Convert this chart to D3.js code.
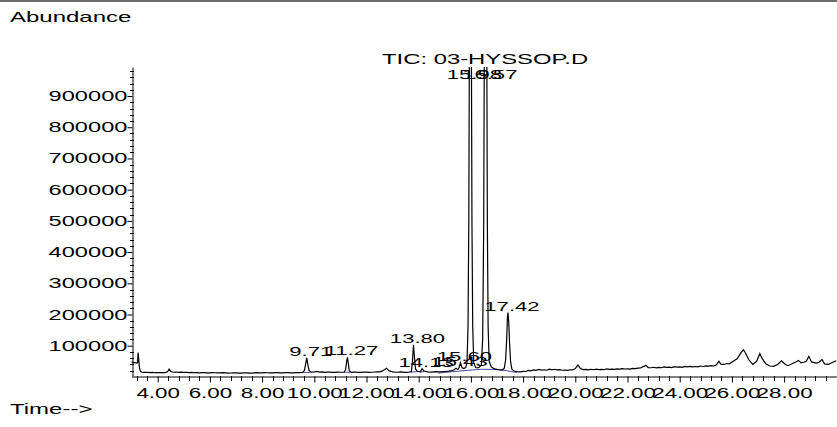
<!DOCTYPE html>
<html>
<head>
<meta charset="utf-8">
<script src="https://cdn.jsdelivr.net/npm/d3@7"></script>
<style>
  body { margin: 0; background: #fff; }
  svg { display: block; }
  text { font-family: "Liberation Sans", Arial, sans-serif; fill: #000; }
</style>
</head>
<body>
<svg id="chart" width="837" height="427"></svg>
<script>
// chromatogram trace: [time (min), abundance]
const trace = [
  [3.00, 48000], [3.10, 46000], [3.20, 44000], [3.23, 46000], [3.25, 78000], [3.27, 60000],
  [3.30, 30000], [3.34, 17000], [3.40, 15500], [3.50, 14500], [3.60, 15000], [3.70, 14000],
  [3.80, 14500], [3.90, 13500], [4.00, 14000], [4.10, 13800], [4.20, 14200], [4.30, 14000],
  [4.38, 17000], [4.44, 25000], [4.50, 17500], [4.60, 15000], [4.70, 15800], [4.80, 14500],
  [4.90, 15200], [5.00, 14600], [5.10, 15000], [5.20, 14000], [5.30, 14300], [5.40, 13500],
  [5.50, 13900], [5.60, 13200], [5.70, 14000], [5.80, 13600], [5.90, 12900], [6.00, 13000],
  [6.10, 13800], [6.20, 13400], [6.30, 12700], [6.40, 12800], [6.50, 13500], [6.60, 13200],
  [6.70, 12500], [6.80, 12600], [6.90, 13300], [7.00, 13000], [7.10, 12300], [7.20, 12400],
  [7.30, 13100], [7.40, 12900], [7.50, 12200], [7.60, 12500], [7.70, 13200], [7.80, 13600],
  [7.90, 12800], [8.00, 13000], [8.10, 13700], [8.20, 13400], [8.30, 12700], [8.40, 12800],
  [8.50, 13600], [8.60, 13500], [8.70, 12900], [8.80, 13000], [8.90, 13900], [9.00, 13800],
  [9.10, 13000], [9.20, 13200], [9.30, 14000], [9.40, 13900], [9.55, 14500], [9.62, 21000],
  [9.67, 42000], [9.71, 61000], [9.75, 40000], [9.80, 21000], [9.88, 15500], [10.00, 16500],
  [10.10, 18000], [10.20, 15500], [10.30, 15900], [10.40, 14800], [10.50, 15600], [10.60, 15200],
  [10.70, 14400], [10.80, 14500], [10.90, 15300], [11.00, 15000], [11.15, 15500], [11.20, 24000],
  [11.24, 50000], [11.27, 63000], [11.30, 45000], [11.34, 20000], [11.42, 14500], [11.50, 15600],
  [11.60, 15200], [11.70, 14300], [11.80, 14600], [11.90, 15400], [12.00, 15500], [12.10, 14800],
  [12.20, 15000], [12.30, 15900], [12.40, 16500], [12.50, 16000], [12.60, 18500], [12.77, 28000],
  [12.85, 20000], [13.00, 16000], [13.10, 15200], [13.20, 15000], [13.30, 15900], [13.40, 15600],
  [13.50, 14800], [13.60, 15000], [13.72, 17000], [13.76, 50000], [13.80, 103000], [13.84, 60000],
  [13.88, 25000], [13.95, 18000], [14.05, 16000], [14.13, 26000], [14.20, 19000], [14.35, 16000],
  [14.50, 15500], [14.65, 17000], [14.80, 16000], [15.00, 17500], [15.15, 18500], [15.25, 20000],
  [15.35, 22000], [15.43, 28000], [15.50, 24000], [15.55, 30000], [15.60, 46000], [15.66, 30000],
  [15.72, 27000], [15.80, 30000], [15.85, 45000], [15.89, 160000], [15.92, 500000], [15.95, 1300000],
  [15.98, 1900000], [16.01, 1300000], [16.04, 500000], [16.07, 160000], [16.11, 45000], [16.18, 30000],
  [16.25, 29000], [16.32, 31000], [16.40, 38000], [16.45, 120000], [16.49, 480000], [16.52, 1200000],
  [16.55, 1800000], [16.57, 1900000], [16.60, 1300000], [16.63, 500000], [16.66, 160000], [16.70, 50000],
  [16.78, 32000], [16.90, 26000], [17.00, 24000], [17.10, 22500], [17.20, 22000], [17.28, 28000],
  [17.33, 55000], [17.37, 120000], [17.40, 190000], [17.42, 206000], [17.45, 175000], [17.48, 110000],
  [17.52, 50000], [17.57, 25000], [17.65, 19000], [17.75, 17000], [17.90, 16500], [18.00, 18000],
  [18.10, 17500], [18.20, 21000], [18.30, 19500], [18.40, 22500], [18.50, 21000], [18.60, 24000],
  [18.70, 22000], [18.80, 23000], [18.90, 21500], [19.00, 25000], [19.10, 23000], [19.20, 24500],
  [19.30, 22500], [19.40, 23500], [19.50, 21500], [19.60, 22000], [19.70, 21000], [19.80, 23000],
  [19.90, 22500], [20.00, 27000], [20.10, 38000], [20.20, 27000], [20.30, 23500], [20.40, 24000],
  [20.50, 22500], [20.60, 24500], [20.70, 23000], [20.80, 25000], [20.90, 23500], [21.00, 24000],
  [21.10, 23000], [21.20, 25500], [21.30, 24000], [21.40, 25000], [21.50, 24000], [21.60, 26000],
  [21.70, 25000], [21.80, 26500], [21.90, 25500], [22.00, 26000], [22.10, 25000], [22.20, 27500],
  [22.30, 26500], [22.40, 28000], [22.50, 29000], [22.60, 33000], [22.70, 37000], [22.80, 30000],
  [22.90, 29500], [23.00, 31000], [23.10, 29000], [23.20, 30500], [23.30, 29500], [23.40, 32000],
  [23.50, 30500], [23.60, 31500], [23.70, 30000], [23.80, 33000], [23.90, 31500], [24.00, 32500],
  [24.10, 31000], [24.20, 33500], [24.30, 32000], [24.40, 34000], [24.50, 32500], [24.60, 33500],
  [24.70, 32500], [24.80, 35000], [24.90, 33500], [25.00, 35500], [25.10, 34500], [25.20, 36000],
  [25.30, 35000], [25.40, 38000], [25.50, 50000], [25.58, 41000], [25.70, 40000], [25.80, 43000],
  [25.90, 42000], [26.05, 50000], [26.20, 58000], [26.35, 78000], [26.44, 87000], [26.50, 80000],
  [26.65, 55000], [26.80, 40000], [26.95, 50000], [27.07, 75000], [27.15, 60000], [27.30, 42000],
  [27.45, 35000], [27.60, 34000], [27.75, 40000], [27.90, 52000], [28.05, 40000], [28.15, 36000],
  [28.30, 42000], [28.45, 48000], [28.55, 53000], [28.65, 45000], [28.75, 47000], [28.85, 50000],
  [28.95, 66000], [29.05, 48000], [29.15, 46000], [29.25, 44000], [29.35, 48000], [29.45, 56000],
  [29.55, 42000], [29.70, 40000], [29.85, 46000], [30.00, 52000]
];

// integrated peaks: retention time labels and apex abundance
const peakTimes = [9.71, 11.27, 13.80, 14.13, 15.43, 15.60, 15.98, 16.57, 17.42];
const peakApex = [61000, 63000, 103000, 26000, 28000, 46000, 1900000, 1900000, 206000];

// integration baselines (blue)
const baselines = [
  [[9.58, 14000], [9.86, 15000]],
  [[11.18, 15000], [11.40, 14800]],
  [[13.70, 15500], [13.97, 17000]],
  [[14.05, 15500], [14.22, 17500]],
  [[14.75, 12500], [15.45, 18000], [16.00, 22000], [16.40, 24500], [17.10, 24000], [17.75, 14000]]
];

const yTicks = [100000, 200000, 300000, 400000, 500000, 600000, 700000, 800000, 900000];
const xTicks = [4, 6, 8, 10, 12, 14, 16, 18, 20, 22, 24, 26, 28];
const title = "TIC: 03-HYSSOP.D";

const svg = d3.select("#chart");

const x = d3.scaleLinear().domain([3.0, 30.0]).range([131.6, 836.3]);
const y = d3.scaleLinear().domain([3000, 993000]).range([376, 67]);

// grey rule along the top
svg.append("rect").attr("x", 0).attr("y", 0).attr("width", 837).attr("height", 2).attr("fill", "#6b6b6b");

svg.append("text")
  .attr("transform", "translate(10,21.5) scale(1.6,1)")
  .style("font-size", "15px")
  .text("Abundance");

svg.append("text")
  .attr("transform", "translate(10,414) scale(1.6,1)")
  .style("font-size", "15px")
  .text("Time-->");

svg.append("text")
  .attr("transform", "translate(382,64) scale(1.59,1)")
  .style("font-size", "15px")
  .text(title);

// y axis
const minorY = d3.range(20000, 993000, 20000).filter((v) => v % 100000 !== 0);
svg.append("g")
  .selectAll("line")
  .data(minorY)
  .join("line")
  .attr("x1", 130).attr("x2", 134)
  .attr("y1", (d) => Math.round(y(d)) + 0.5).attr("y2", (d) => Math.round(y(d)) + 0.5)
  .attr("stroke", "#000");

const yAxis = svg.append("g")
  .attr("transform", "translate(132.5,0)")
  .call(d3.axisLeft(y).tickValues(yTicks).tickSize(5).tickSizeOuter(0).tickFormat((d) => d));
yAxis.select(".domain").attr("stroke", "#000");
yAxis.selectAll("text")
  .attr("x", -3)
  .attr("transform", "scale(1.69,1)")
  .style("font-size", "14px")
  .style("font-family", "'Liberation Sans', Arial, sans-serif");

// x axis
const minorX = d3.range(3.2, 30, 0.4).filter((v) => Math.abs(v / 2 - Math.round(v / 2)) > 0.01);
svg.append("g")
  .selectAll("line")
  .data(minorX)
  .join("line")
  .attr("x1", (d) => Math.round(x(d)) + 0.5).attr("x2", (d) => Math.round(x(d)) + 0.5)
  .attr("y1", 376).attr("y2", 381)
  .attr("stroke", "#000");

const xAxis = svg.append("g")
  .attr("transform", "translate(0,376.5)")
  .call(d3.axisBottom(x).tickValues(xTicks).tickSize(6).tickSizeOuter(0).tickFormat((d) => d.toFixed(2)));
xAxis.select(".domain").attr("stroke", "#000");
xAxis.selectAll("text")
  .attr("y", 12)
  .attr("transform", "scale(1.6,1)")
  .style("font-size", "14px")
  .style("font-family", "'Liberation Sans', Arial, sans-serif");

// trace, clipped at the top of the axis
svg.append("clipPath").attr("id", "plot")
  .append("rect").attr("x", 131).attr("y", 67).attr("width", 706).attr("height", 310);

const line = d3.line().x((d) => x(d[0])).y((d) => y(d[1]));

svg.append("g")
  .attr("clip-path", "url(#plot)")
  .selectAll("path.base")
  .data(baselines)
  .join("path")
  .attr("class", "base")
  .attr("d", line)
  .attr("fill", "none")
  .attr("stroke", "#4a4aa8")
  .attr("stroke-width", 1);

svg.append("path")
  .datum(trace)
  .attr("clip-path", "url(#plot)")
  .attr("d", line)
  .attr("fill", "none")
  .attr("stroke", "#000")
  .attr("stroke-width", 1.2);

// retention time labels
svg.append("g")
  .selectAll("text")
  .data(peakTimes)
  .join("text")
  .attr("transform", (d, i) => {
    const top = Math.max(y(peakApex[i]), 67 + 14);
    return `translate(${x(d) + 4},${top - 2}) scale(1.7,1)`;
  })
  .attr("text-anchor", "middle")
  .style("font-size", "13px")
  .text((d) => d.toFixed(2));
</script>
</body>
</html>
